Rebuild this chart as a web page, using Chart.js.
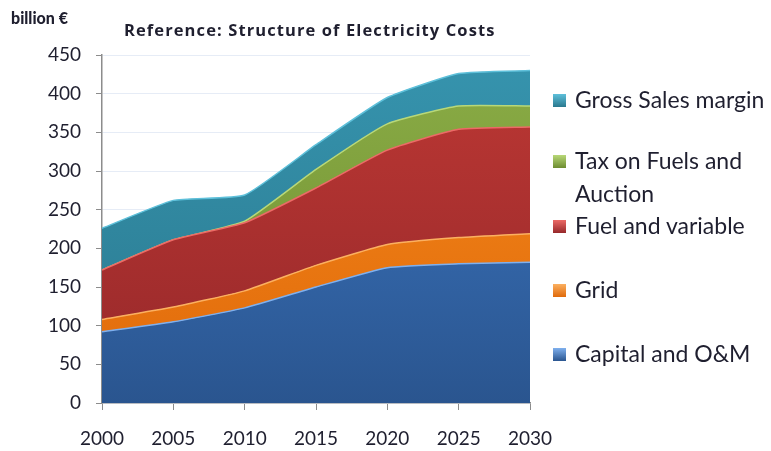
<!DOCTYPE html>
<html>
<head>
<meta charset="utf-8">
<script src="https://cdn.jsdelivr.net/npm/chart.js@4.4.0/dist/chart.umd.min.js"></script>
<style>
  html, body { margin: 0; padding: 0; background: #fff; }
  #wrap { position: relative; width: 771px; height: 451px; font-family: Lato, "Open Sans", sans-serif; color: #1f1f2f; }
  #unit { position: absolute; left: 11px; top: 8px; font-size: 16px; font-weight: 900; }
  #title { position: absolute; left: 124px; top: 18px; font-family: "Open Sans", sans-serif; font-size: 16.5px; font-weight: bold; letter-spacing: 1.1px; }
  #legend { position: absolute; left: 553px; top: 0; }
  .item { position: absolute; left: 0; white-space: nowrap; font-size: 23px; line-height: 33px; }
  .item span.box { position: absolute; left: 0; top: 11px; width: 13px; height: 13px; }
  .item span.txt { position: absolute; left: 22px; top: 0; }
</style>
</head>
<body>
<div id="wrap">
  <canvas id="chart_div" width="771" height="451"></canvas>
  <div id="unit">billion €</div>
  <div id="title">Reference: Structure of Electricity Costs</div>
  <div id="legend"></div>
</div>
<script>
var years = ["2000", "2005", "2010", "2015", "2020", "2025", "2030"];
var capital = [92, 105, 123, 150, 175, 180, 182];
var grid = [16, 19, 22, 28, 30, 34, 37];
var fuel = [64, 87, 88, 100, 122, 140, 138];
var tax = [0, 0, 2, 24, 34, 30, 27];
var gross = [54, 51, 34, 32, 34, 42, 46];

var seriesNames = ["Capital and O&M", "Grid", "Fuel and variable", "Tax on Fuels and Auction", "Gross Sales margin"];
var seriesData = [capital, grid, fuel, tax, gross];
// [top, bottom, edge line]
var seriesColors = [
  ["#3d78c4", "#2a558f", "#7fb0ee"],
  ["#f58a1c", "#e0690a", "#fbb060"],
  ["#bd3834", "#96282a", "#ec6a66"],
  ["#8bad46", "#6d8c30", "#b8d878"],
  ["#3694ae", "#2a788e", "#5ec0da"]
];

function makeFill(i) {
  return function (ctx) {
    var area = ctx.chart.chartArea;
    if (!area) return seriesColors[i][0];
    var g = ctx.chart.ctx.createLinearGradient(0, area.top, 0, area.bottom);
    g.addColorStop(0, seriesColors[i][0]);
    g.addColorStop(1, seriesColors[i][1]);
    return g;
  };
}

var datasets = [];
for (var i = 0; i < seriesData.length; i++) {
  datasets.push({
    label: seriesNames[i],
    data: seriesData[i],
    fill: i === 0 ? "origin" : "-1",
    backgroundColor: makeFill(i),
    borderColor: seriesColors[i][2],
    borderWidth: 1.5,
    pointRadius: 0,
    tension: 0.15
  });
}

new Chart(document.getElementById("chart_div"), {
  type: "line",
  data: { labels: years, datasets: datasets },
  options: {
    responsive: false,
    animation: false,
    layout: { padding: { left: 0, top: 55, right: 241, bottom: 0 } },
    plugins: { legend: { display: false }, tooltip: { enabled: false } },
    scales: {
      x: {
        offset: false,
        grid: { display: true, drawOnChartArea: false, tickLength: 7, tickColor: "#8c8c8c" },
        border: { color: "#8c8c8c", width: 1.5 },
        ticks: { color: "#1f1f2f", font: { family: "Lato", size: 19 }, padding: 17, maxRotation: 0 },
        afterFit: function (s) { s.height = 48; }
      },
      y: {
        stacked: true,
        min: 0, max: 450,
        ticks: { stepSize: 50, color: "#1f1f2f", font: { family: "Lato", size: 19 }, padding: 15 },
        grid: { color: "#e6ecf6", tickLength: 6, tickColor: "#8c8c8c" },
        border: { color: "#8c8c8c", width: 1.5 },
        afterFit: function (s) { s.width = 102; }
      }
    }
  }
});

// legend, top series first
var legendRows = [
  { i: 4, top: 83, lines: ["Gross Sales margin"] },
  { i: 3, top: 144, lines: ["Tax on Fuels and", "Auction"] },
  { i: 2, top: 209, lines: ["Fuel and variable"] },
  { i: 1, top: 273, lines: ["Grid"] },
  { i: 0, top: 337, lines: ["Capital and O&M"] }
];
var legend = document.getElementById("legend");
legendRows.forEach(function (r) {
  var d = document.createElement("div");
  d.className = "item";
  d.style.top = r.top + "px";
  var c = seriesColors[r.i];
  d.innerHTML = '<span class="box" style="background:linear-gradient(' + c[2] + ',' + c[1] + ')"></span>' +
    '<span class="txt">' + r.lines.join("<br>").replace("&", "&amp;") + '</span>';
  legend.appendChild(d);
});
</script>
</body>
</html>
